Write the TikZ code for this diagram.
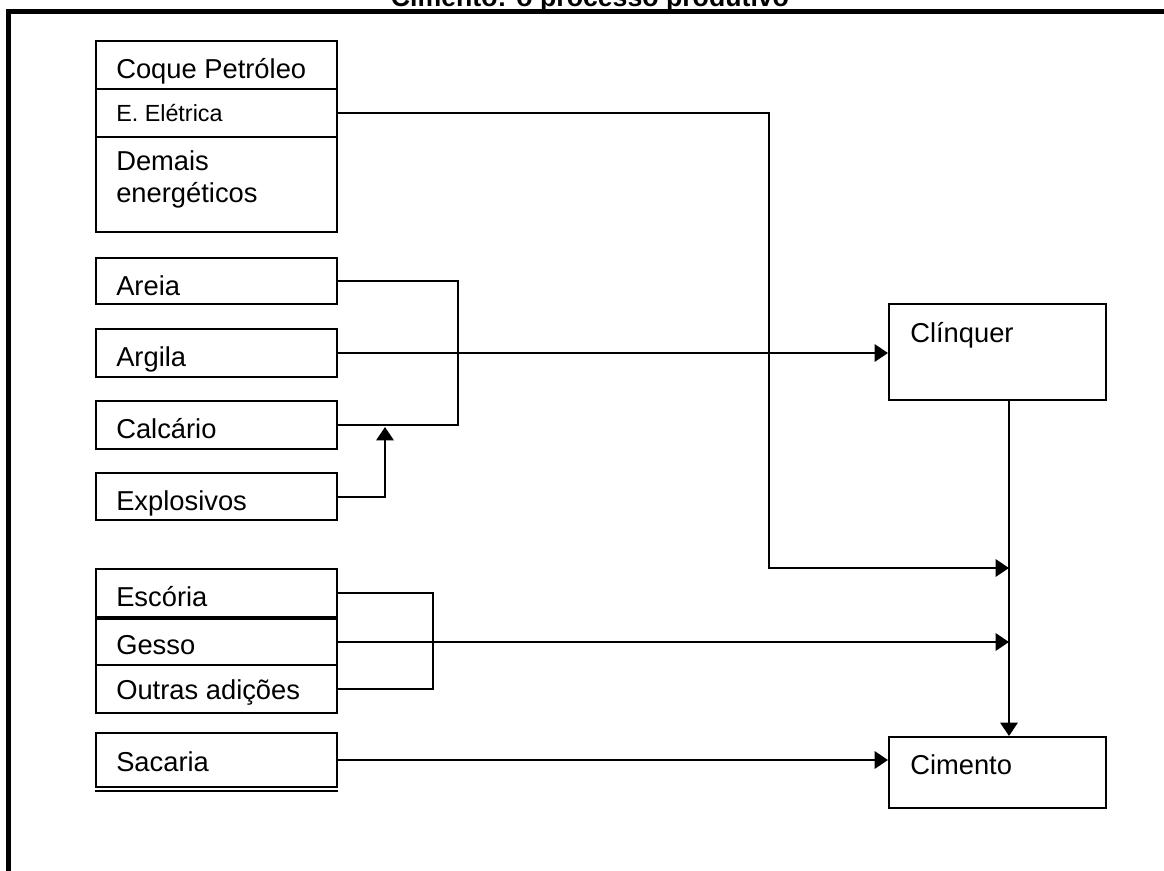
\documentclass[tikz,border=0pt]{standalone}
\usepackage{fontspec}
\setmainfont{Liberation Sans}
\usetikzlibrary{arrows.meta,fit,calc}
\begin{document}
\begin{tikzpicture}[x=0.75pt,y=-0.75pt,
  box/.style={draw, line width=1.5pt, rectangle, inner sep=0pt},
  txt/.style={anchor=base west, inner sep=0pt, font=\fontsize{20.5pt}{24pt}\selectfont},
  smalltxt/.style={anchor=base west, inner sep=0pt, font=\fontsize{17.5pt}{21pt}\selectfont},
  ln/.style={line width=1.5pt},
  arr/.style={ln, -{Triangle[length=10pt,width=13pt]}},
  frame/.style={line width=3.75pt}]
\useasboundingbox (0,0) rectangle (1164,871);
\clip (0,0) rectangle (1164,871);
% title and frame
\node[anchor=base, inner sep=0pt, font=\fontsize{20pt}{24pt}\selectfont\bfseries] (title) at (590,6) {Cimento: o processo produtivo};
\draw[frame] (8.5,880) -- (8.5,11.5) -- (1175,11.5);
% left boxes
\node[box, fit={(96,41) (337,89)}] (coque) {};
\node[box, fit={(96,89) (337,137)}] (eletr) {};
\node[box, fit={(96,137) (337,232)}] (demais) {};
\node[box, fit={(96,258) (337,304)}] (areia) {};
\node[box, fit={(96,329) (337,377)}] (argila) {};
\node[box, fit={(96,401) (337,449)}] (calc) {};
\node[box, fit={(96,473) (337,520)}] (expl) {};
\node[box, fit={(96,569) (337,617)}] (escoria) {};
\node[box, fit={(96,619) (337,665)}] (gesso) {};
\node[box, fit={(96,665) (337,713)}] (outras) {};
\node[box, fit={(96,733) (337,787)}] (sacaria) {};
\draw[ln] (sacaria.south west) ++(0,2.5) coordinate (sbl) -- (sbl -| sacaria.east);
% right boxes
\node[box, fit={(889,304) (1106,400)}] (clinq) {};
\node[box, fit={(889,737) (1106,808)}] (cimento) {};
% texts
\node[txt] (coqueT) at (116,78) {Coque Petróleo};
\node[smalltxt] (eletrT) at (116,121) {E. Elétrica};
\node[txt] (demaisT1) at (116,170) {Demais};
\node[txt] (demaisT2) at (116,202) {energéticos};
\node[txt] (areiaT) at (116,295) {Areia};
\node[txt] (argilaT) at (116,366) {Argila};
\node[txt] (calcT) at (116,438) {Calcário};
\node[txt] (explT) at (116,510) {Explosivos};
\node[txt] (escoriaT) at (116,606) {Escória};
\node[txt] (gessoT) at (116,654) {Gesso};
\node[txt] (outrasT) at (116,699) {Outras adições};
\node[txt] (sacariaT) at (116,771) {Sacaria};
\node[txt] (clinqT) at (910,342) {Clínquer};
\node[txt] (cimentoT) at (910,774) {Cimento};
% helper coordinates
\coordinate (cv) at (1009,0);
\coordinate (b1) at (458,0);
\coordinate (ex) at (385,0);
\coordinate (b2) at (433,0);
\coordinate (ej) at (769,568);
% connectors
\draw[ln] (areia.east) -| (b1 |- calc.east) -- (calc.east);
\draw[arr] (argila.east) -- (argila.east -| clinq.west);
\draw[arr] (expl.east) -| ($(ex |- calc.east)+(0,2)$);
\draw[arr] (eletr.east) -| (ej) -- (ej -| cv);
\draw[ln] (escoria.east) -| (b2 |- outras.east) -- (outras.east);
\draw[arr] (gesso.east) -- (gesso.east -| cv);
\draw[arr] (clinq.south -| cv) -- (cimento.north -| cv);
\draw[arr] (sacaria.east) -- (sacaria.east -| cimento.west);
\end{tikzpicture}
\end{document}
